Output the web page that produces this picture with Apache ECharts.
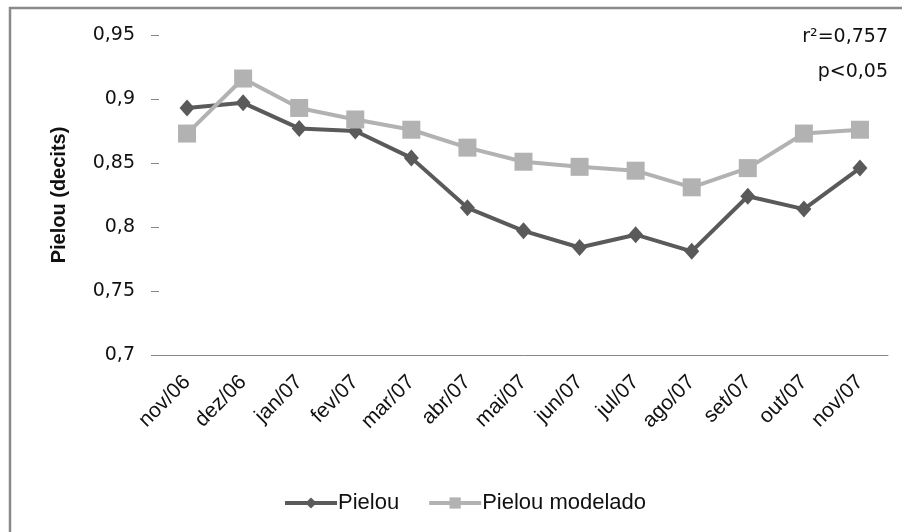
<!DOCTYPE html>
<html>
<head>
<meta charset="utf-8">
<script src="https://cdn.jsdelivr.net/npm/echarts@6/dist/echarts.min.js"></script>
<style>
html,body{margin:0;padding:0;background:#fff;}
#chart{width:902px;height:532px;}
</style>
</head>
<body>
<div id="chart"></div>
<script>
const categories = ['nov/06','dez/06','jan/07','fev/07','mar/07','abr/07','mai/07','jun/07','jul/07','ago/07','set/07','out/07','nov/07'];
const pielou = [0.893, 0.897, 0.877, 0.875, 0.854, 0.815, 0.797, 0.784, 0.794, 0.781, 0.824, 0.814, 0.846];
const pielouModelado = [0.873, 0.916, 0.893, 0.884, 0.876, 0.862, 0.851, 0.847, 0.844, 0.831, 0.846, 0.873, 0.876];
const yTicks = {min: 0.7, max: 0.95, interval: 0.05};
const yTitle = 'Pielou (decits)';
const statLines = ['r²=0,757', 'p<0,05'];

const chart = echarts.init(document.getElementById('chart'));
chart.setOption({
  animation: false,
  backgroundColor: '#fff',
  grid: {left: 159, right: 14, top: 35, bottom: 177},
  graphic: [
    {type: 'rect', shape: {x: 10, y: 8, width: 1000, height: 1000},
     style: {fill: 'none', stroke: '#8a8a8a', lineWidth: 2.5}, silent: true},
    {type: 'text', right: 14, top: 28,
     style: {text: statLines[0], font: '19px "DejaVu Sans"', fill: '#111', textAlign: 'right'}},
    {type: 'text', right: 14, top: 63,
     style: {text: statLines[1], font: '19px "DejaVu Sans"', fill: '#111', textAlign: 'right'}}
  ],
  legend: {
    left: 278, top: 487,
    itemWidth: 52, itemHeight: 14, itemGap: 28,
    lineStyle: {width: 4},
    textStyle: {fontFamily: 'Liberation Sans', fontSize: 22, color: '#111', padding: [0,0,0,-4]},
    data: ['Pielou', 'Pielou modelado']
  },
  xAxis: {
    type: 'category',
    data: categories,
    boundaryGap: true,
    axisLine: {lineStyle: {color: '#868686', width: 1}},
    axisTick: {length: 6, lineStyle: {color: '#868686'}},
    axisLabel: {rotate: 45, margin: 24, fontFamily: 'Liberation Sans', fontSize: 21, color: '#111'}
  },
  yAxis: {
    type: 'value',
    min: yTicks.min, max: yTicks.max, interval: yTicks.interval,
    name: yTitle,
    nameLocation: 'middle',
    nameGap: 90,
    nameTextStyle: {fontFamily: 'Liberation Sans', fontWeight: 'bold', fontSize: 20, color: '#111'},
    axisLine: {show: false},
    axisTick: {show: true, inside: false, length: 8, lineStyle: {color: '#868686'}},
    splitLine: {show: false},
    axisLabel: {
      margin: 24, fontFamily: 'DejaVu Sans', fontSize: 19, color: '#111',
      formatter: v => String(Math.round(v * 100) / 100).replace('.', ',')
    }
  },
  series: [
    {
      name: 'Pielou', type: 'line', data: pielou, z: 2,
      symbol: 'diamond', symbolSize: [15, 17],
      lineStyle: {color: '#5a5a5a', width: 4},
      itemStyle: {color: '#5a5a5a'}
    },
    {
      name: 'Pielou modelado', type: 'line', data: pielouModelado, z: 3,
      symbol: 'rect', symbolSize: 18,
      lineStyle: {color: '#b2b2b2', width: 4},
      itemStyle: {color: '#b2b2b2'}
    }
  ]
});
</script>
</body>
</html>
